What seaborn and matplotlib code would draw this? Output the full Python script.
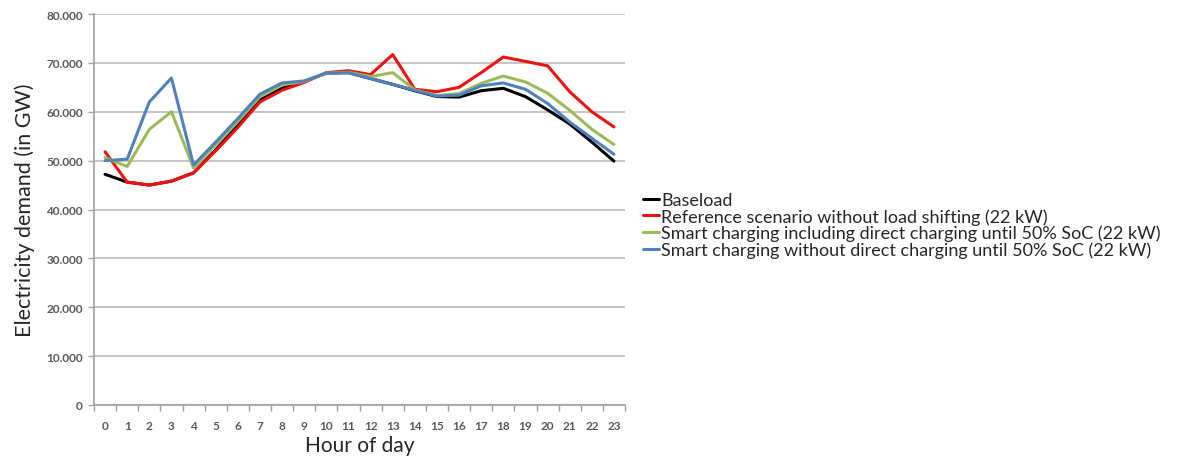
import numpy as np
import pandas as pd
import matplotlib
matplotlib.use("Agg")
import matplotlib.pyplot as plt
from matplotlib.ticker import FuncFormatter, MultipleLocator
import seaborn as sns

hours = list(range(24))
baseload = [47.2, 45.6, 45.0, 45.8, 47.5, 52.2, 57.3, 62.4, 64.8, 66.2, 67.9, 68.0,
            66.8, 65.6, 64.3, 63.1, 63.0, 64.3, 64.8, 63.1, 60.4, 57.5, 53.8, 49.9]
reference = [51.8, 45.6, 45.0, 45.8, 47.5, 52.0, 56.8, 62.0, 64.4, 66.0, 68.0, 68.4,
             67.6, 71.7, 64.6, 64.1, 65.0, 68.0, 71.2, 70.3, 69.4, 64.1, 60.0, 56.9]
smart_incl = [50.6, 48.8, 56.4, 60.0, 48.5, 53.2, 58.0, 63.1, 65.5, 66.2, 67.9, 68.1,
              67.2, 68.0, 64.5, 63.3, 63.7, 65.8, 67.3, 66.1, 63.8, 60.3, 56.4, 53.3]
smart_excl = [50.0, 50.3, 62.0, 66.9, 49.1, 53.8, 58.6, 63.6, 65.9, 66.3, 67.9, 68.0,
              66.8, 65.6, 64.4, 63.2, 63.4, 65.3, 65.9, 64.6, 61.7, 57.9, 54.6, 51.3]

labels = ["Baseload",
          "Reference scenario without load shifting (22 kW)",
          "Smart charging including direct charging until 50% SoC (22 kW)",
          "Smart charging without direct charging until 50% SoC (22 kW)"]
colors = ["#000000", "#ee1111", "#9bbb59", "#4f81bd"]

rows = []
for lab, vals in zip(labels, [baseload, reference, smart_incl, smart_excl]):
    for h, v in zip(hours, vals):
        rows.append({"Hour": h, "Demand": v * 1000, "Series": lab})
df = pd.DataFrame(rows)

sns.set_theme(style="white")
plt.rcParams['font.family'] = ['Lato', 'DejaVu Sans']

fig = plt.figure(figsize=(12.04, 4.6), dpi=100)
ax = fig.add_axes([94/1204, 1 - 406/460, (625-94)/1204, (406-15)/460])

sns.lineplot(data=df, x="Hour", y="Demand", hue="Series", hue_order=labels,
             palette=colors, linewidth=2.2, ax=ax, legend=True)

ax.set_xlim(-0.5, 23.5)
ax.set_ylim(0, 80000)
ax.yaxis.set_major_locator(MultipleLocator(10000))
ax.yaxis.set_major_formatter(FuncFormatter(
    lambda v, p: "0" if v == 0 else f"{int(round(v)):,}".replace(",", ".")))
ax.set_xticks(hours)
ax.set_xticklabels([str(h) for h in hours])
ax.xaxis.set_minor_locator(MultipleLocator(1, offset=0.5))
ax.tick_params(axis='x', which='major', length=0, pad=11, labelsize=8.5, labelcolor="#595959")
ax.tick_params(axis='x', which='minor', length=4, width=1, color="#a0a0a0", direction='out', bottom=True)
ax.tick_params(axis='y', which='major', length=4, width=1, color="#a0a0a0", direction='out',
               left=True, labelsize=8.5, labelcolor="#595959", pad=4)
for t in ax.get_xticklabels() + ax.get_yticklabels():
    t.set_fontweight('bold')

ax.grid(axis='y', color="#c0c0c0", linewidth=1.3)
ax.grid(axis='x', visible=False)
for s in ["top", "right"]:
    ax.spines[s].set_visible(False)
for s in ["left", "bottom"]:
    ax.spines[s].set_color("#a0a0a0")
    ax.spines[s].set_linewidth(1.2)

ax.set_xlabel("Hour of day", fontsize=15, labelpad=3)
ax.set_ylabel("Electricity demand (in GW)", fontsize=15.5, labelpad=8)

handles, lbls = ax.get_legend_handles_labels()
ax.legend(handles, lbls, loc="center left", bbox_to_anchor=(636/1204, 1 - 226/460),
          bbox_transform=fig.transFigure, frameon=False, fontsize=13,
          handlelength=0.9, handletextpad=0.1, labelspacing=0.0, borderaxespad=0)

fig.savefig("out.png", dpi=100)
